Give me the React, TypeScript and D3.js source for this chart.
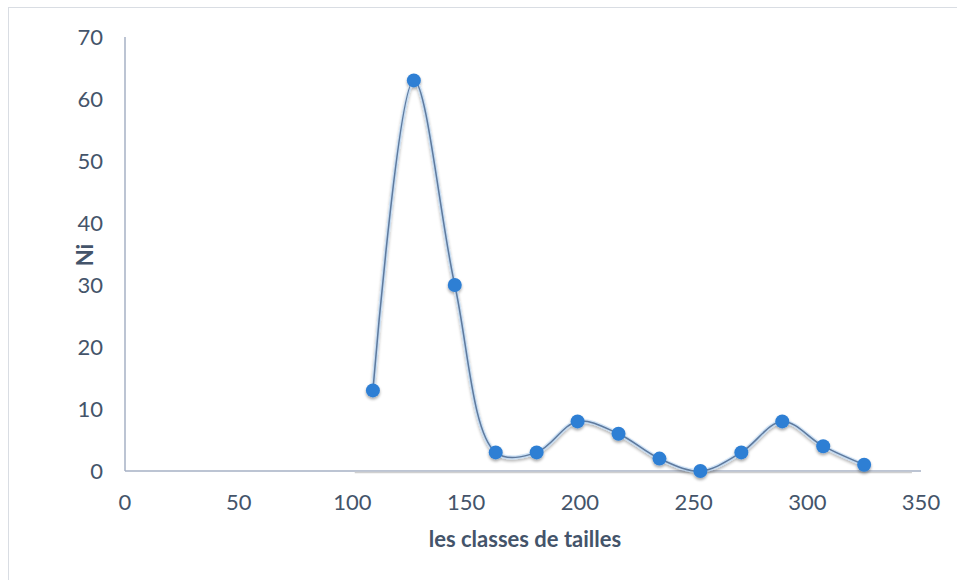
import React from "react";
import * as d3 from "d3";

const classes = [109, 127, 145, 163, 181, 199, 217, 235, 253, 271, 289, 307, 325];
const ni = [13, 63, 30, 3, 3, 8, 6, 2, 0, 3, 8, 4, 1];
const xTicks = [0, 50, 100, 150, 200, 250, 300, 350];
const yTicks = [0, 10, 20, 30, 40, 50, 60, 70];
const xTitle = "les classes de tailles";
const yTitle = "Ni";

const W = 957;
const H = 580;
const left = 125;
const right = 921;
const top = 37;
const bottom = 471;
const textColor = "#44546a";
const axisColor = "#a6b0c4";
const font = "Lato, 'Open Sans', sans-serif";

export default function App() {
  const x = d3.scaleLinear().domain([0, 350]).range([left, right]);
  const y = d3.scaleLinear().domain([0, 70]).range([bottom, top]);
  const pts: [number, number][] = classes.map((c, i) => [x(c), y(ni[i])]);
  const line = d3.line().curve(d3.curveCatmullRom.alpha(0.5))(pts) || "";

  return (
    <svg
      width={W}
      height={H}
      style={{ position: "absolute", left: 0, top: 0, background: "#fff" }}
    >
      <defs>
        <filter id="glow" x="-20%" y="-20%" width="140%" height="140%">
          <feGaussianBlur in="SourceAlpha" stdDeviation="1.5" />
          <feOffset dx="0" dy="1.5" result="b" />
          <feComponentTransfer>
            <feFuncA type="linear" slope="0.35" />
          </feComponentTransfer>
          <feMerge>
            <feMergeNode />
            <feMergeNode in="SourceGraphic" />
          </feMerge>
        </filter>
      </defs>
      <rect x={8.5} y={7.5} width={W + 20} height={H + 20} fill="#fff" stroke="#d9dde3" strokeWidth={1} />
      {/* y axis */}
      <line x1={left} x2={left} y1={top} y2={bottom} stroke={axisColor} strokeWidth={1.5} />
      {/* x axis */}
      <line x1={left} x2={right} y1={bottom} y2={bottom} stroke={axisColor} strokeWidth={1.5} />
      <line x1={x(101)} x2={x(346)} y1={bottom + 1.5} y2={bottom + 1.5} stroke="#d0d0d0" strokeWidth={1.5} />
      {yTicks.map((t) => (
        <text key={"y" + t} x={103} y={y(t)} dy="0.35em" textAnchor="end" fontFamily={font} fontSize={22} fill={textColor}>
          {t}
        </text>
      ))}
      {xTicks.map((t) => (
        <text key={"x" + t} x={x(t)} y={502} dy="0.35em" textAnchor="middle" fontFamily={font} fontSize={22} fill={textColor}>
          {t}
        </text>
      ))}
      <text x={(left + right) / 2 + 2} y={539} dy="0.35em" textAnchor="middle" fontFamily={font} fontSize={22} fontWeight="bold" fill={textColor}>
        {xTitle}
      </text>
      <text transform={`translate(85,255) rotate(-90)`} dy="0.35em" textAnchor="middle" fontFamily={font} fontSize={22} fontWeight="bold" fill={textColor}>
        {yTitle}
      </text>
      <g filter="url(#glow)">
        <path d={line} fill="none" stroke="#bcd8f5" strokeWidth={4} strokeOpacity={0.7} />
        <path d={line} fill="none" stroke="#5e7a9e" strokeWidth={1.5} />
        {pts.map((p, i) => (
          <circle key={i} cx={p[0]} cy={p[1]} r={7} fill="#2e7fd4" />
        ))}
      </g>
    </svg>
  );
}
